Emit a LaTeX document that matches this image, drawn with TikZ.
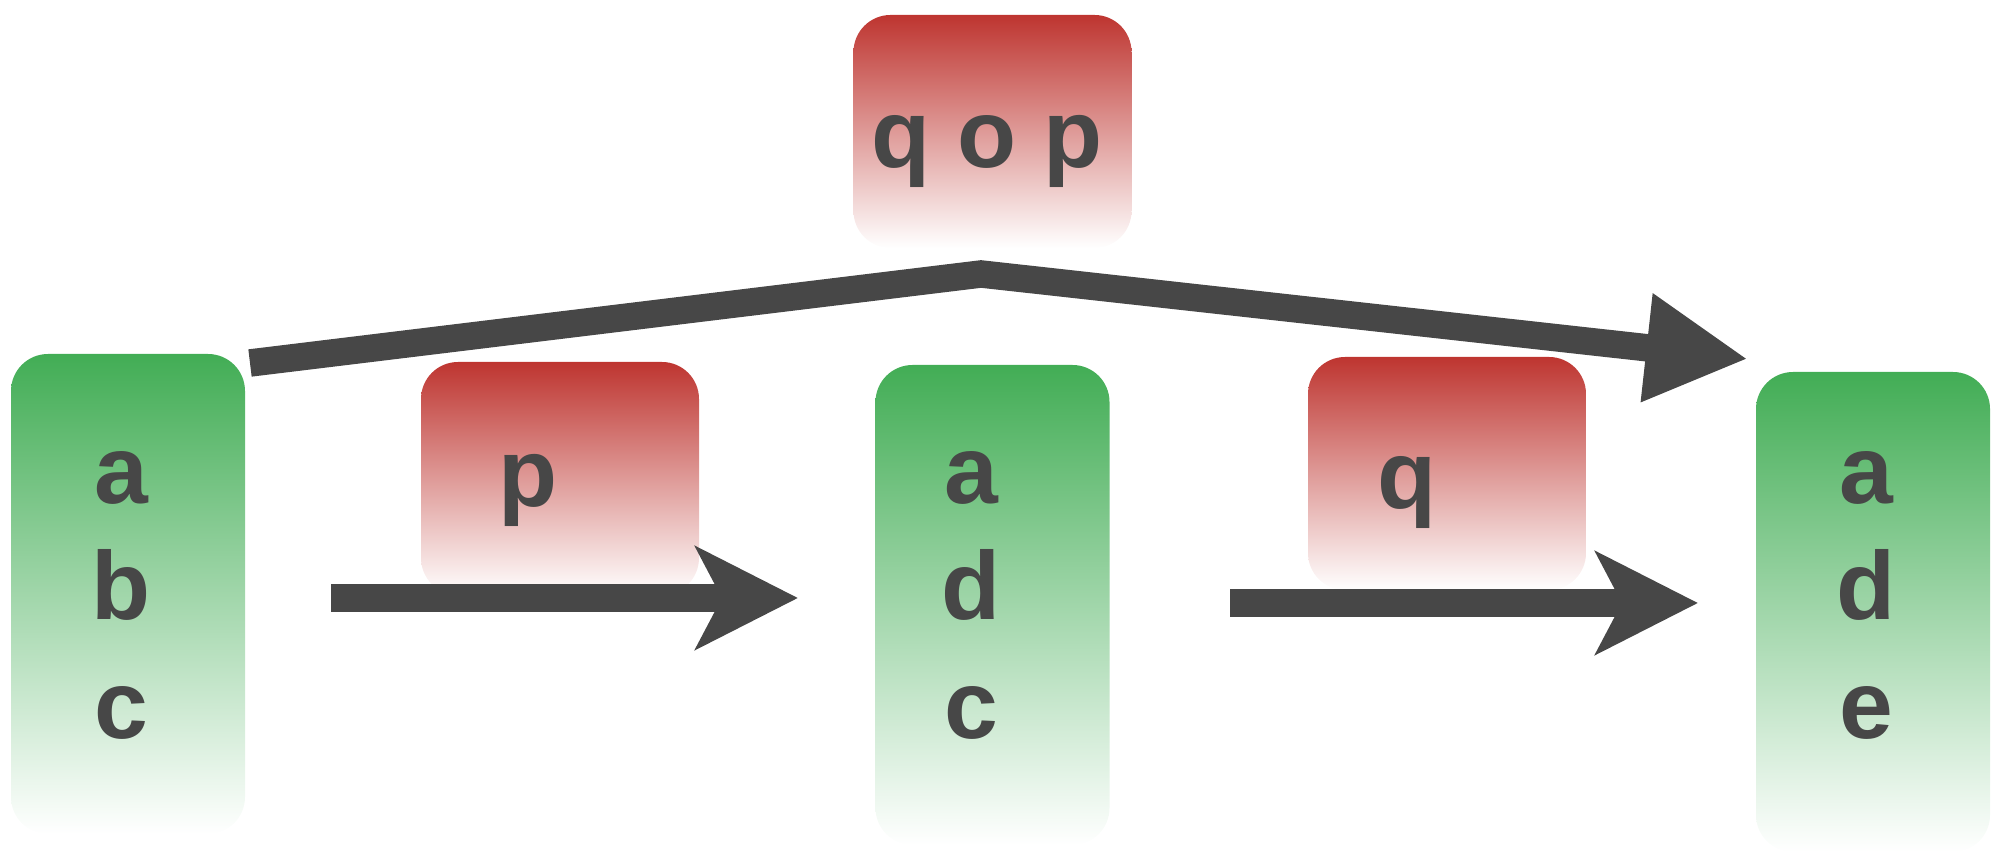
\documentclass[tikz,border=0pt]{standalone}
\usepackage{fontspec}
\setmainfont{Liberation Sans}
\usetikzlibrary{arrows.meta}

\definecolor{stategreen}{HTML}{42AD55}
\definecolor{opred}{HTML}{BE3530}
\definecolor{ink}{HTML}{474747}

\begin{document}
\begin{tikzpicture}[
  statebox/.style={rounded corners=3.7mm, minimum width=2.34cm, minimum height=4.8cm,
    inner sep=0, top color=stategreen, bottom color=white},
  opbox/.style={rounded corners=3.7mm, minimum width=2.78cm, minimum height=2.33cm,
    inner sep=0, top color=opred, bottom color=white},
  chr/.style={anchor=base, inner sep=0, text=ink, font=\fontsize{27.5}{33}\selectfont\bfseries},
  flow/.style={draw=ink, line width=2.75mm},
]
\useasboundingbox (0,0) rectangle (19.95,8.52);

% states
\node[statebox] (sabc) at (1.28,2.58) {};
\node[statebox] (sadc) at (9.925,2.47) {};
\node[statebox] (sade) at (18.73,2.40) {};

% operations
\node[opbox] (opqop) at (9.925,7.205) {};
\node[opbox] (opp) at (5.60,3.735) {};
\node[opbox] (opq) at (14.47,3.785) {};

% arrow ends
\coordinate (topstart) at (2.50,4.89);
\coordinate (topbend) at (9.81,5.78);
\coordinate (topend) at (17.48,4.93);
\coordinate (pstart) at (3.31,2.54);
\coordinate (pend) at (7.98,2.54);
\coordinate (qstart) at (12.30,2.49);
\coordinate (qend) at (16.98,2.49);

\draw[flow, -{Triangle[length=10.2mm, width=10.2mm]}] (topstart) -- (topbend) -- (topend);
\draw[flow, -{Stealth[length=10.2mm, width=10.2mm, inset=2.6mm]}] (pstart) -- (pend);
\draw[flow, -{Stealth[length=10.2mm, width=10.2mm, inset=2.6mm]}] (qstart) -- (qend);

% contents
\node[chr] (abc1) at (1.21,3.48) {a};
\node[chr] (abc2) at (1.21,2.32) {b};
\node[chr] (abc3) at (1.21,1.13) {c};
\node[chr] (adc1) at (9.71,3.48) {a};
\node[chr] (adc2) at (9.71,2.32) {d};
\node[chr] (adc3) at (9.71,1.13) {c};
\node[chr] (ade1) at (18.66,3.48) {a};
\node[chr] (ade2) at (18.66,2.32) {d};
\node[chr] (ade3) at (18.66,1.13) {e};
\node[chr] (qoptext) at (9.87,6.84) {q o p};
\node[chr] (ptext) at (5.28,3.45) {p};
\node[chr] (qtext) at (14.07,3.43) {q};
\end{tikzpicture}
\end{document}
